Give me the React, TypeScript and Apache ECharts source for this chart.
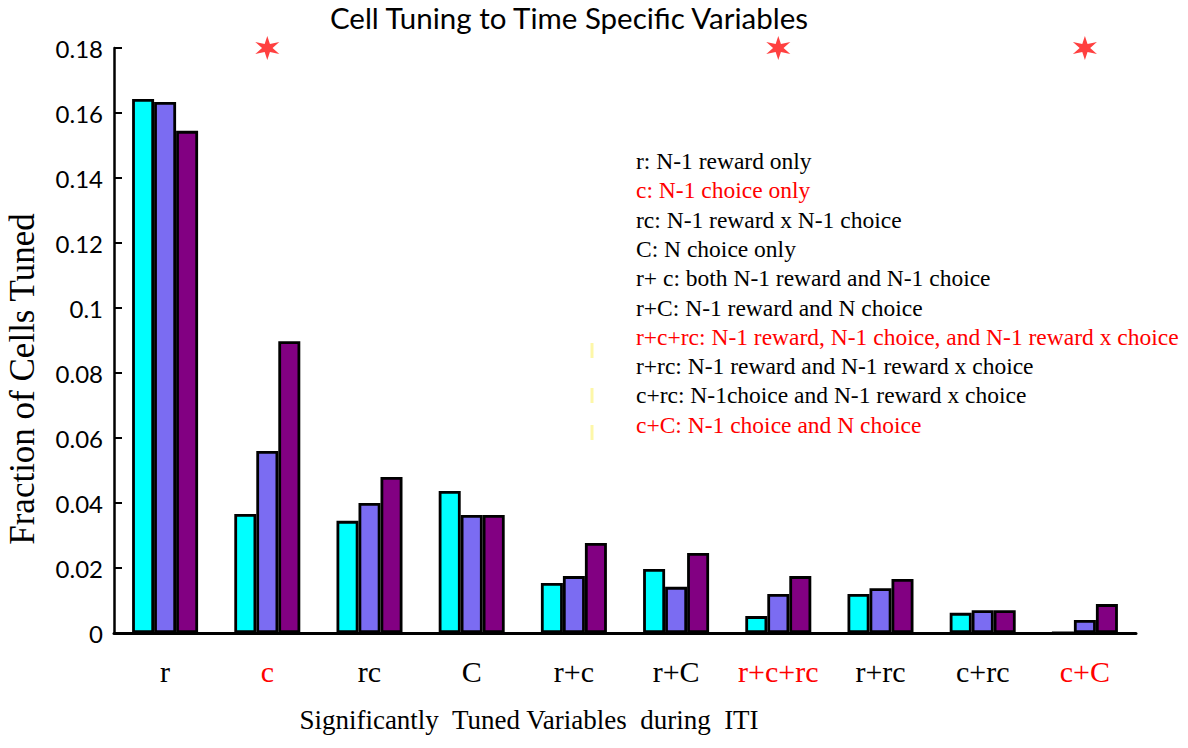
import React, { useEffect, useRef } from "react";
import * as echarts from "echarts";

const categories = ["r", "c", "rc", "C", "r+c", "r+C", "r+c+rc", "r+rc", "c+rc", "c+C"];
const redCategories = ["c", "r+c+rc", "c+C"];
const series1 = [0.1643, 0.0366, 0.0345, 0.0437, 0.0154, 0.0197, 0.0052, 0.012, 0.0062, 0];
const series2 = [0.1634, 0.056, 0.040, 0.0363, 0.0175, 0.0142, 0.012, 0.0138, 0.007, 0.004];
const series3 = [0.1545, 0.0898, 0.048, 0.0363, 0.0277, 0.0246, 0.0175, 0.0166, 0.007, 0.0089];
const significantMarks = ["c", "r+c+rc", "c+C"];
const yTickMax = 0.18;
const yTickStep = 0.02;

const legendLines = [
  { text: "r: N-1 reward only", red: false },
  { text: "c: N-1 choice only", red: true },
  { text: "rc: N-1 reward x N-1 choice", red: false },
  { text: "C: N choice only", red: false },
  { text: "r+ c: both N-1 reward and N-1 choice", red: false },
  { text: "r+C: N-1 reward and N choice", red: false },
  { text: "r+c+rc: N-1 reward, N-1 choice, and N-1 reward x choice", red: true },
  { text: "r+rc: N-1 reward and N-1 reward x choice", red: false },
  { text: "c+rc: N-1choice and N-1 reward x choice", red: false },
  { text: "c+C: N-1 choice and N choice", red: true },
];

function asteriskPath(): string {
  const pts: string[] = [];
  const n = 6;
  for (let i = 0; i < n * 2; i++) {
    const r = i % 2 === 0 ? 10 : 3.8;
    const a = (Math.PI * i) / n - Math.PI / 2;
    pts.push(`${(r * Math.cos(a)).toFixed(2)},${(r * Math.sin(a)).toFixed(2)}`);
  }
  return "path://M" + pts.join(" L") + " Z";
}

const SERIF = "'Liberation Serif', 'DejaVu Serif', serif";
const SANS = "Lato, 'Open Sans', sans-serif";

export default function App() {
  const ref = useRef<HTMLDivElement>(null);
  useEffect(() => {
    if (!ref.current) return;
    const chart = echarts.init(ref.current, undefined, { renderer: "svg" });
    const barCommon = {
      type: "bar" as const,
      barWidth: 22,
      barGap: "0%",
      itemStyle: { borderColor: "#000", borderWidth: 2.8 },
    };
    chart.setOption({
      animation: false,
      backgroundColor: "#fff",
      grid: { left: 114, right: 52, top: 48, bottom: 115, containLabel: false },
      xAxis: {
        type: "category",
        data: categories,
        axisLine: { show: true, lineStyle: { color: "#000", width: 3 } },
        axisTick: { show: false },
        axisLabel: {
          interval: 0,
          hideOverlap: false,
          margin: 23,
          fontFamily: SERIF,
          fontSize: 30,
          color: (v: string) => (redCategories.includes(v) ? "#ff0000" : "#000"),
        },
      },
      yAxis: {
        type: "value",
        min: 0,
        max: yTickMax,
        interval: yTickStep,
        splitLine: { show: false },
        axisLine: { show: true, lineStyle: { color: "#000", width: 2.5 } },
        axisTick: { show: true, inside: true, length: 8, lineStyle: { color: "#000", width: 2 } },
        axisLabel: { fontFamily: SANS, fontSize: 24, color: "#000", margin: 11 },
      },
      series: [
        { ...barCommon, name: "Series 1", data: series1, itemStyle: { ...barCommon.itemStyle, color: "#00ffff" } },
        { ...barCommon, name: "Series 2", data: series2, itemStyle: { ...barCommon.itemStyle, color: "#7b6cf2" } },
        { ...barCommon, name: "Series 3", data: series3, itemStyle: { ...barCommon.itemStyle, color: "#820082" } },
        {
          type: "scatter",
          name: "Significant",
          data: significantMarks.map((c) => [c, yTickMax]),
          symbol: asteriskPath(),
          symbolSize: 24,
          clip: false,
          itemStyle: { color: "#ff1010" },
          z: 5,
        },
      ],
      graphic: [
        {
          type: "text",
          x: 569,
          y: 17,
          style: {
            text: "Cell Tuning to Time Specific Variables",
            align: "center",
            verticalAlign: "middle",
            fontFamily: SANS,
            fontSize: 29.5,
            fill: "#000",
          },
        },
        {
          type: "text",
          x: 22,
          y: 379,
          rotation: Math.PI / 2,
          style: {
            text: "Fraction of Cells Tuned",
            align: "center",
            verticalAlign: "middle",
            fontFamily: SERIF,
            fontSize: 35,
            fill: "#000",
          },
        },
        {
          type: "text",
          x: 529,
          y: 720,
          style: {
            text: "Significantly  Tuned Variables  during  ITI",
            align: "center",
            verticalAlign: "middle",
            fontFamily: SERIF,
            fontSize: 27,
            fill: "#000",
          },
        },
        ...legendLines.map((l, i) => ({
          type: "text",
          x: 636,
          y: 161 + i * 29.3,
          style: {
            text: l.text,
            align: "left",
            verticalAlign: "middle",
            fontFamily: SERIF,
            fontSize: 23.5,
            fill: l.red ? "#ff0000" : "#000",
          },
        })),
        ...[
          [343, 358],
          [388, 403],
          [425, 440],
        ].map(([y1, y2]) => ({
          type: "line",
          shape: { x1: 592, y1, x2: 592, y2 },
          style: { stroke: "#fdf7a8", lineWidth: 3 },
        })),
      ],
    });
    return () => chart.dispose();
  }, []);
  return <div ref={ref} style={{ width: 1188, height: 748, margin: -8 }} />;
}
